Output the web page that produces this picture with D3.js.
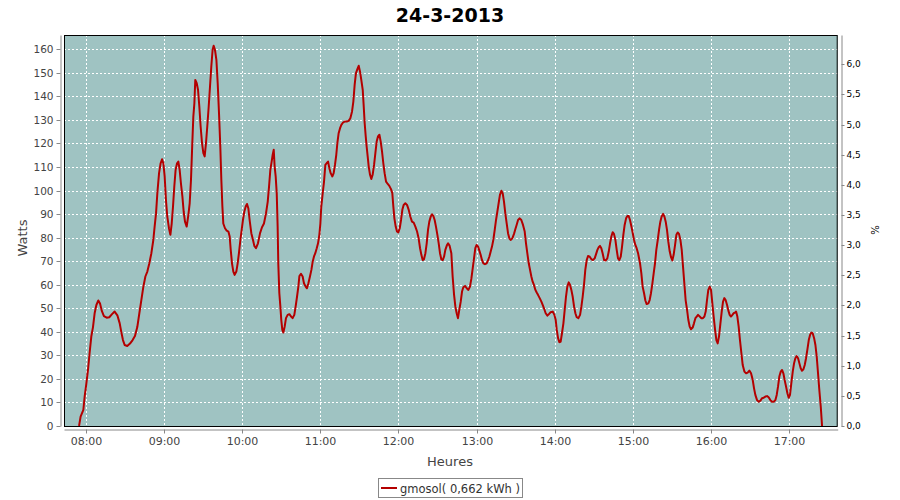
<!DOCTYPE html>
<html><head><meta charset="utf-8">
<script src="https://cdn.jsdelivr.net/npm/d3@7/dist/d3.min.js"></script>
<style>body{margin:0;background:#fff;}svg{display:block;font-family:"DejaVu Sans",sans-serif;}</style>
</head><body>
<svg id="chart" width="900" height="500"></svg>
<script>
// ---- data: minutes after 08:00 and watts ----
const titleText = "24-3-2013";
const seriesName = "gmosol( 0,662 kWh )";
const xTickLabels = ["08:00","09:00","10:00","11:00","12:00","13:00","14:00","15:00","16:00","17:00"];
const wattTicks = [0,10,20,30,40,50,60,70,80,90,100,110,120,130,140,150,160];
const pctTicks = [0,0.5,1,1.5,2,2.5,3,3.5,4,4.5,5,5.5,6];
const timeDomain = ["07:43:21","17:37:06"];
const wattMax = 166.07;
const pctMax = 6.487;

const minutes = [
-5.1,-3.9,-1.8,-0.8,0.5,1.8,3.0,4.3,5.6,6.9,8.2,9.7,11.0,12.3,14.0,16.1,18.1,20.2,22.2,24.3,26.1,27.3,28.6,29.9,31.9,34.0,36.0,37.8,39.6,41.2,42.7,44.2,45.8,47.3,48.8,50.4,51.9,52.9,54.0,55.0,56.3,57.5,58.6,
59.6,60.6,61.6,62.6,63.9,65.0,66.0,67.0,68.0,69.0,70.1,71.1,72.1,73.1,74.2,75.2,76.2,77.5,78.8,79.8,80.8,81.8,82.6,83.4,84.1,85.2,86.2,87.2,88.2,89.3,90.3,91.3,92.3,93.3,94.4,95.4,96.4,97.4,98.2,99.2,100.3,101.3,102.3,103.3,104.1,104.9,105.6,106.9,108.2,109.5,110.5,111.3,112.3,113.3,114.3,115.6,116.6,117.6,118.7,119.7,120.7,121.7,122.8,123.8,124.8,125.8,127.1,128.4,129.4,
130.7,132.2,133.8,135.3,136.8,138.4,139.7,140.7,141.7,142.7,143.5,144.3,145.0,145.8,146.6,147.3,147.8,148.6,149.4,150.1,150.9,151.7,152.7,153.7,155.0,156.3,157.6,158.8,160.1,161.1,162.2,163.2,164.0,165.2,166.5,167.5,168.8,169.8,170.9,172.1,173.2,174.2,175.2,176.2,177.3,178.3,179.3,180.1,180.8,181.9,182.9,183.9,184.9,186.0,187.0,188.0,189.3,190.3,191.3,192.3,193.1,194.1,195.2,196.2,197.5,198.7,200.3,201.8,203.1,
204.4,205.4,206.4,207.4,208.5,209.5,210.5,211.5,212.6,213.3,214.1,214.9,215.6,216.4,217.2,218.2,219.2,220.2,221.3,222.3,223.3,224.3,225.4,226.4,227.4,228.4,229.4,230.5,231.8,233.0,234.3,235.3,236.1,236.9,237.9,238.9,239.9,241.0,242.0,243.0,244.0,245.3,246.6,247.9,249.1,250.4,251.7,253.0,254.3,255.5,256.6,257.6,258.6,259.6,260.7,261.7,262.7,263.7,264.8,265.8,266.8,267.8,268.8,269.9,270.9,271.9,272.9,274.0,275.0,276.0,277.3,
278.1,279.3,280.6,281.6,282.7,283.7,284.7,285.7,286.7,287.8,288.8,289.8,291.1,292.4,293.7,294.9,296.0,297.0,298.0,299.0,300.0,301.1,302.1,303.1,304.1,305.2,306.4,307.7,308.7,309.8,310.8,311.8,312.8,313.9,314.9,315.9,316.9,317.9,319.0,320.0,321.0,322.0,323.1,324.1,325.1,326.1,327.4,328.7,329.7,330.7,331.8,333.1,334.3,335.6,336.9,337.9,338.9,340.0,341.0,342.0,343.0,344.0,345.1,346.1,347.1,348.4,349.7,351.0,
351.7,353.0,354.3,355.6,356.8,358.4,359.7,360.7,361.5,362.5,363.5,364.5,365.5,366.6,367.6,368.6,369.6,370.7,371.7,372.7,373.7,374.8,375.8,376.8,378.1,379.4,380.4,381.4,382.4,383.4,384.5,385.5,386.8,388.1,389.3,390.6,391.6,392.7,393.7,394.7,395.7,396.7,397.8,399.1,400.3,401.4,402.4,403.4,404.4,405.4,406.5,407.5,408.5,409.5,410.6,411.6,412.6,413.6,414.7,415.7,416.7,417.7,418.8,419.8,420.8,421.8,422.8,423.9,424.9,
425.4,426.4,427.4,428.5,429.5,430.5,431.8,432.8,433.8,434.9,435.9,436.9,437.9,439.0,440.0,441.0,442.0,443.1,444.1,445.1,446.1,447.1,448.2,449.2,450.2,451.2,452.3,453.3,454.3,455.3,456.4,457.4,458.4,459.4,460.4,461.5,462.5,463.5,464.5,465.8,466.8,467.9,468.9,469.9,471.2,472.5,473.7,474.8,475.8,476.8,477.8,478.9,479.9,480.9,481.9,483.0,484.0,485.0,486.0,487.1,488.1,489.1,490.1,491.1,492.2,493.2,494.2,495.2,496.3,497.3,498.3,
499.1,500.1,501.1,502.1,503.2,504.2,505.5,506.8,508.0,509.3,510.6,511.9,512.9,513.9,515.2,516.5,517.8,519.0,520.3,521.6,522.9,524.1,525.4,526.7,528.0,529.3,530.3,531.3,532.3,533.4,534.4,535.4,536.4,537.5,538.5,539.5,540.5,541.5,542.6,543.6,544.6,545.6,546.7,547.7,548.7,549.7,550.8,551.8,552.8,553.8,554.9,555.9,556.9,557.9,559.0,560.0,561.0,562.0,563.0,564.1,565.1
];
const watts = [
0,4,6.8,12.5,18,24,31,38,42,48,51.4,53.3,52,49,46.7,46,46.2,47.5,48.6,47,43.6,40,36.5,34.4,34,35,36.5,38.2,42,48,53.5,59,63.5,65.6,69,73.4,79,84.7,90.4,99,107.4,111.6,113.3,
111.6,106,96,89,84,81.2,86,93.2,101.7,108.8,111.6,112.3,108.8,103,97.5,91,86.8,84.7,89.7,94.6,104.5,120,131.4,137,147,145.6,142.8,135.7,127.2,120,115.9,114.5,120,127.2,135.7,144.2,152.7,159.8,161.5,159.8,155.5,145.6,132.9,118.7,104.5,93.2,86,84,83,82.6,80.5,74.8,69,65.6,64.2,65.6,69,73.4,79,83.3,87.5,91,93.2,94.3,92.5,87.5,81.9,79,76.5,
75.5,77.6,81.9,84.4,86,90.4,95.3,101.7,108.8,112.3,115.2,117.3,110.2,106,98.9,84.7,69,56.4,50.7,45,40.8,39.7,42.2,45.8,47.2,47.5,46.5,45.8,47.2,50.7,55,59.2,63.7,64.6,63.5,60.6,59.2,58.5,60.6,63.5,66.3,69.8,72,73.4,75.5,77.6,81.2,86,93.2,98.9,103.8,110.9,111.6,112.3,109.5,107.4,106,107.4,110.9,115.2,120,124.3,126.5,127.9,128.9,129.3,129.3,129.6,130.7,
133.6,137.8,144.9,149.9,151.6,153,150.6,147,142.8,136.4,128.6,123,118.7,114.5,110.2,106.7,104.9,106.7,110.9,115.9,120.8,123,123.7,120.8,116.6,111.6,107.4,103.8,102.8,102,100.6,98.9,93.2,88.2,84.7,82.6,82.2,84,87.5,91.8,93.9,94.6,93.9,91.8,89,86.8,86.4,84.7,82.6,79.7,75.5,72.7,70.5,70.8,73.4,77.6,83.3,86.8,89,89.9,89.2,87.5,84.7,81.2,77.6,73.4,70.8,70.5,71.9,74.8,76.9,
77.6,76.5,73.4,63.5,55.7,50.7,47.9,45.8,49.3,52.8,57.1,58.9,59.5,58.5,57.8,59.2,62.7,67,71.2,75.5,76.9,76.2,74.5,72.7,70.5,69.1,68.7,69.1,70.3,72,74.1,76.2,79,83.3,87.5,91,94.6,98.2,99.9,98.9,95.3,90.4,86,81.9,79.7,79,79.7,81.6,83.6,85.4,87.5,88.2,87.5,85.4,82.6,77.6,73.4,69.1,66.3,63.5,61.3,59.9,57.8,56.7,55.7,54.3,52.8,51,
50,47.9,46.9,47.6,48.3,48.6,47.2,45,40.8,37.3,35.6,35.8,39.4,43.6,49.3,55,59.2,61,59.9,57.8,55,50.7,47.9,46.2,45.8,47.2,50.7,55,59.9,66.3,70.5,72.2,71.9,70.8,70.5,71.2,72.9,74.8,75.9,76.5,75.5,73.4,70.5,70.3,71.2,74.1,77.6,80.5,82.3,81.6,79,74.8,71.2,70.5,71.9,76.2,81.2,85.4,88.2,89.2,89.2,87.5,84.7,81.9,79,76.9,75.5,73.4,70.5,
69.1,64.9,59.2,56.4,53.3,51.8,52.1,53.5,56.4,60.6,64.9,69.1,74.8,79,83.3,86.8,89,90.1,89,86.8,83.3,78.3,74.1,71.7,70.3,72.7,76.9,81.2,82.2,81.6,79,74.8,67.7,60.6,53.5,49.3,45,42.2,41.1,41.8,43.6,45.8,46.5,47.2,46.5,45.8,45.8,46.5,48.6,53.5,57.8,59.2,57.8,52.1,46.5,40.8,36.5,35.1,38,43.6,48.6,52.8,54.3,53.5,51.4,49,47.2,46.5,47.2,47.9,48.2,
48.6,46.5,42.2,36.5,30.9,25.9,23.1,22.4,22.7,23.5,22.4,19.5,16,13.2,11,10.3,10.8,11.8,12,12.5,12.7,12.2,11,10.3,10.3,11,13.2,16.7,21,23.1,23.8,22.4,19.5,16.7,13.9,12,13.2,18.1,23.1,26.6,28.8,29.7,28.8,26.6,24.5,23.5,24.1,25.9,28.8,32.3,36.5,38.7,39.7,39.4,37.3,34.4,29.5,22.4,15.3,8.2,0
];

// ---- layout ----
const plot = {left:64, right:837.7, top:35, bottom:426};
const svg = d3.select("#chart");
const day = d3.timeParse("%H:%M:%S");
const base = day("08:00:00");
const toDate = m => new Date(base.getTime() + m*60000);
const data = d3.range(Math.min(minutes.length, watts.length)).map(i => ({t: toDate(minutes[i]), v: watts[i]}));

const x = d3.scaleTime().domain(timeDomain.map(day)).range([plot.left, plot.right]);
const y = d3.scaleLinear().domain([0, wattMax]).range([plot.bottom, plot.top]);
const y2 = d3.scaleLinear().domain([0, pctMax]).range([plot.bottom, plot.top]);
const hourTicks = xTickLabels.map(s => d3.timeParse("%H:%M")(s));
const fr = d3.formatLocale({decimal:",", thousands:".", grouping:[3], currency:["","€"]}).format(".1f");
const px = v => Math.round(v) + 0.5;

// background + clip
svg.append("rect").attr("x", plot.left).attr("y", plot.top)
  .attr("width", plot.right - plot.left).attr("height", plot.bottom - plot.top).attr("fill", "#9fc3c2");
svg.append("clipPath").attr("id","clip").append("rect")
  .attr("x", plot.left).attr("y", plot.top).attr("width", plot.right - plot.left).attr("height", plot.bottom - plot.top);

// gridlines
const grid = svg.append("g").attr("stroke","#ffffff").attr("stroke-width",1).attr("stroke-dasharray","2,2");
grid.selectAll(".gx").data(hourTicks).join("line")
  .attr("x1", d => px(x(d))).attr("x2", d => px(x(d))).attr("y1", plot.top).attr("y2", plot.bottom);
grid.selectAll(".gy").data(wattTicks.slice(1)).join("line")
  .attr("x1", plot.left).attr("x2", plot.right).attr("y1", d => px(y(d))).attr("y2", d => px(y(d)));

// series line
svg.append("path").datum(data).attr("clip-path","url(#clip)")
  .attr("fill","none").attr("stroke","#b40000").attr("stroke-width",2).attr("stroke-linejoin","round")
  .attr("d", d3.line().x(d => x(d.t)).y(d => y(d.v)));

// plot border
svg.append("rect").attr("x", plot.left + 0.5).attr("y", plot.top + 0.5)
  .attr("width", plot.right - plot.left - 1).attr("height", plot.bottom - plot.top)
  .attr("fill","none").attr("stroke","#000").attr("stroke-width",1);

// axes
function styleAxis(g, color, size){
  g.select(".domain").attr("stroke","#888");
  g.selectAll(".tick line").attr("stroke","#888");
  g.selectAll(".tick text").attr("fill", color).attr("font-size", size).attr("font-family","DejaVu Sans, sans-serif");
}
const gl = svg.append("g").attr("transform","translate(60.5,0)")
  .call(d3.axisLeft(y).tickValues(wattTicks).tickSize(4).tickSizeOuter(0).tickPadding(3));
styleAxis(gl, "#444", "10.5px");
gl.selectAll(".tick").attr("transform", d => `translate(0,${px(y(d))})`);

const gr = svg.append("g").attr("transform","translate(841.5,0)")
  .call(d3.axisRight(y2).tickValues(pctTicks).tickSize(3).tickSizeOuter(0).tickPadding(2).tickFormat(fr));
styleAxis(gr, "#000", "9px");
gr.selectAll(".tick").attr("transform", d => `translate(0,${px(y2(d))})`);

const gb = svg.append("g").attr("transform","translate(0,429.5)")
  .call(d3.axisBottom(x).tickValues(hourTicks).tickSize(4).tickSizeOuter(0).tickPadding(4).tickFormat(d3.timeFormat("%H:%M")));
styleAxis(gb, "#444", "11px");
gb.selectAll(".tick").attr("transform", d => `translate(${px(x(d))},0)`);

// titles
svg.append("text").attr("x",450).attr("y",22).attr("text-anchor","middle")
  .attr("font-size","19px").attr("font-weight","bold").attr("fill","#000").text(titleText);
svg.append("text").attr("transform","translate(27,238) rotate(-90)").attr("text-anchor","middle")
  .attr("font-size","13px").attr("fill","#444").text("Watts");
svg.append("text").attr("x",450).attr("y",466).attr("text-anchor","middle")
  .attr("font-size","13px").attr("fill","#444").text("Heures");
svg.append("text").attr("transform","translate(871,230) rotate(90)").attr("text-anchor","middle")
  .attr("font-size","10px").attr("fill","#000").text("%");

// legend
const lg = svg.append("g");
lg.append("rect").attr("x",378.5).attr("y",478.5).attr("width",144).attr("height",19)
  .attr("fill","#fff").attr("stroke","#888");
lg.append("line").attr("x1",381).attr("x2",397).attr("y1",488).attr("y2",488)
  .attr("stroke","#b40000").attr("stroke-width",2);
lg.append("text").attr("x",400).attr("y",492.5).attr("font-size","11.5px").attr("fill","#333").text(seriesName);
</script>
</body></html>
